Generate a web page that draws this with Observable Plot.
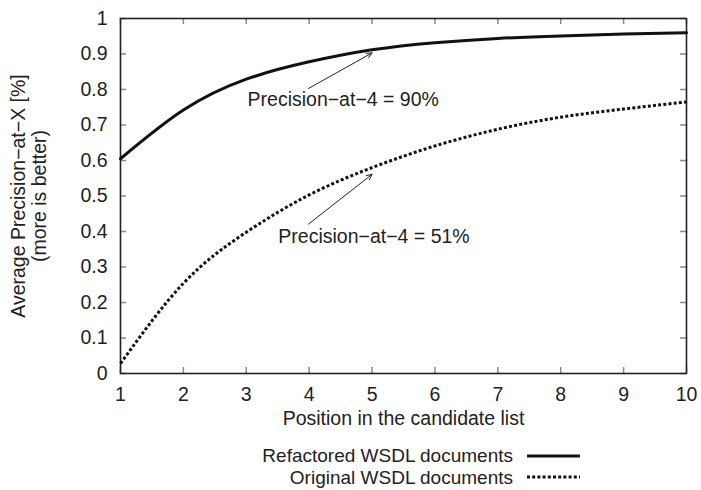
<!DOCTYPE html>
<html>
<head>
<meta charset="utf-8">
<script src="https://cdn.jsdelivr.net/npm/d3@7"></script>
<script src="https://cdn.jsdelivr.net/npm/@observablehq/plot@0.6"></script>
<style>
  html, body { margin: 0; padding: 0; background: #fff; }
  body { width: 701px; height: 490px; overflow: hidden; font-family: "Liberation Sans", Arial, sans-serif; }
  #legend { margin-top: 5px; color: #222; font-size: 19px; }
  .row { display: flex; align-items: center; height: 21.5px; }
  .lab { width: 513px; text-align: right; white-space: nowrap; line-height: 21.5px; }
  .row svg { margin-left: 14px; }
</style>
</head>
<body>
<div id="chart"></div>
<div id="legend"></div>
<script>
// ---- data ----
const positions = [1, 2, 3, 4, 5, 6, 7, 8, 9, 10];
const refactored = [0.605, 0.742, 0.829, 0.878, 0.912, 0.932, 0.944, 0.951, 0.956, 0.960];
const original   = [0.028, 0.254, 0.398, 0.503, 0.580, 0.641, 0.688, 0.722, 0.745, 0.765];
const seriesNames = ["Refactored WSDL documents", "Original WSDL documents"];

const xTicks = [1, 2, 3, 4, 5, 6, 7, 8, 9, 10];
const yTicks = [0, 0.1, 0.2, 0.3, 0.4, 0.5, 0.6, 0.7, 0.8, 0.9, 1];
const yTickLabels = ["0", "0.1", "0.2", "0.3", "0.4", "0.5", "0.6", "0.7", "0.8", "0.9", "1"];

const xLabel = "Position in the candidate list";
const yLabel = "Average Precision\u2212at\u2212X [%]\n(more is better)";

const noteTexts = ["Precision\u2212at\u22124 = 90%", "Precision\u2212at\u22124 = 51%"];
const noteX = [3.02, 3.51];
const noteY = [0.772, 0.386];
const arrowFromX = [3.99, 3.99];
const arrowFromY = [0.803, 0.421];
const arrowToX = [5.0, 5.0];
const arrowToY = [0.903, 0.561];

// ---- build tables ----
const refData = positions.map((x, i) => ({x, y: refactored[i]}));
const origData = positions.map((x, i) => ({x, y: original[i]}));
const notes = noteTexts.map((t, i) => ({t, x: noteX[i], y: noteY[i]}));
const arrows = arrowFromX.map((x1, i) => ({x1, y1: arrowFromY[i], x2: arrowToX[i], y2: arrowToY[i]}));

const FS = 19.5;
const ink = "#222";
const tickCol = "#8a8a8a";

const chart = Plot.plot({
  width: 701,
  height: 440,
  marginTop: 18,
  marginBottom: 67,
  marginLeft: 120,
  marginRight: 15,
  style: {fontFamily: "'Liberation Sans', Arial, sans-serif", fontSize: FS + "px", color: ink, background: "#fff", overflow: "visible"},
  x: {domain: [1, 10]},
  y: {domain: [0, 1]},
  marks: [
    // inward ticks on all four sides
    Plot.ruleX(xTicks, {x: d => d, y1: () => 0, y2: () => 0, insetTop: -6, stroke: tickCol, strokeWidth: 1.5}),
    Plot.ruleX(xTicks, {x: d => d, y1: () => 1, y2: () => 1, insetBottom: -6, stroke: tickCol, strokeWidth: 1.5}),
    Plot.ruleY(yTicks, {y: d => d, x1: () => 1, x2: () => 1, insetRight: -6, stroke: tickCol, strokeWidth: 1.5}),
    Plot.ruleY(yTicks, {y: d => d, x1: () => 10, x2: () => 10, insetLeft: -6, stroke: tickCol, strokeWidth: 1.5}),
    Plot.frame({stroke: ink, strokeWidth: 1.6}),
    Plot.axisX({ticks: xTicks, tickSize: 0, tickPadding: 14, label: null, fontSize: FS, tickFormat: d => String(d)}),
    Plot.axisY({ticks: yTicks, tickSize: 0, tickPadding: 13, label: null, fontSize: FS, tickFormat: (d, i) => yTickLabels[i]}),
    Plot.text([xLabel], {frameAnchor: "bottom", dy: 51, text: d => d, fontSize: FS, fill: ink}),
    Plot.text([yLabel], {frameAnchor: "left", textAnchor: "middle", lineAnchor: "middle", rotate: -90, dx: -91.5, lineHeight: 1.08, text: d => d, fontSize: FS, fill: ink}),
    // curves
    Plot.line(refData, {x: "x", y: "y", curve: "natural", stroke: "#111", strokeWidth: 3}),
    Plot.line(origData, {x: "x", y: "y", curve: "natural", stroke: "#111", strokeWidth: 3, strokeDasharray: "3,2.2", strokeLinecap: "butt"}),
    // annotations
    Plot.arrow(arrows, {x1: "x1", y1: "y1", x2: "x2", y2: "y2", bend: 0, stroke: ink, strokeWidth: 1, headLength: 9, headAngle: 50}),
    Plot.text(notes, {x: "x", y: "y", text: "t", textAnchor: "start", fontSize: FS, fill: ink})
  ]
});
chart.style.display = "block";
document.getElementById("chart").appendChild(chart);

// ---- legend ----
const legend = d3.select("#legend");
const dashes = [null, "3,2.2"];
seriesNames.forEach((name, i) => {
  const row = legend.append("div").attr("class", "row");
  row.append("span").attr("class", "lab").text(name);
  const s = row.append("svg").attr("width", 53).attr("height", 8);
  s.append("line").attr("x1", 0).attr("x2", 53).attr("y1", 4).attr("y2", 4)
    .attr("stroke", "#111").attr("stroke-width", 3)
    .attr("stroke-dasharray", dashes[i]);
});
</script>
</body>
</html>
